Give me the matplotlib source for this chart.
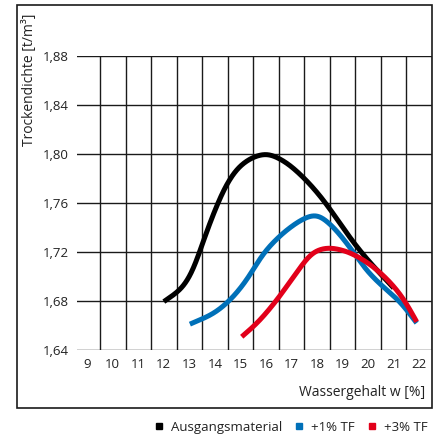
import numpy as np
import matplotlib
matplotlib.use("Agg")
import matplotlib.pyplot as plt
from matplotlib.patches import Rectangle
from matplotlib.lines import Line2D

plt.rcParams['font.family'] = ['Open Sans', 'DejaVu Sans']

# Data
x_ticks = [9, 10, 11, 12, 13, 14, 15, 16, 17, 18, 19, 20, 21, 22]
y_ticks = [1.64, 1.68, 1.72, 1.76, 1.80, 1.84, 1.88]
y_tick_labels = ["1,64", "1,68", "1,72", "1,76", "1,80", "1,84", "1,88"]

aus_x = [12.0, 12.76, 13.15, 13.55, 13.94, 14.46, 14.98, 15.63, 16.0, 16.68, 17.33, 18.11, 18.64, 19.42, 19.94, 21.0]
aus_y = [1.6795, 1.6915, 1.705, 1.7294, 1.7511, 1.7756, 1.7904, 1.7985, 1.8002, 1.7945, 1.7836, 1.766, 1.7511, 1.728, 1.7146, 1.6906]

tf1_x = [13.02, 13.94, 14.59, 15.24, 15.89, 16.42, 16.94, 17.59, 17.95, 18.5, 19.42, 19.94, 20.59, 21.25, 21.9]
tf1_y = [1.6611, 1.6698, 1.6807, 1.697, 1.7186, 1.7307, 1.740, 1.7484, 1.7506, 1.743, 1.720, 1.705, 1.6915, 1.6793, 1.662]

tf3_x = [15.05, 15.64, 16.42, 17.33, 17.85, 18.44, 19.03, 19.94, 20.72, 21.38, 21.9]
tf3_y = [1.6508, 1.6617, 1.6807, 1.7070, 1.720, 1.7235, 1.7213, 1.7118, 1.6983, 1.682, 1.663]

series = [
    ("Ausgangsmaterial", aus_x, aus_y, "#000000"),
    ("+1% TF", tf1_x, tf1_y, "#0070b8"),
    ("+3% TF", tf3_x, tf3_y, "#e2001a"),
]


def pchip(xs, ys, n=600):
    x = np.asarray(xs, float)
    y = np.asarray(ys, float)
    h = np.diff(x)
    d = np.diff(y) / h
    m = np.zeros_like(y)
    for k in range(1, len(x) - 1):
        if d[k - 1] * d[k] > 0:
            w1 = 2 * h[k] + h[k - 1]
            w2 = h[k] + 2 * h[k - 1]
            m[k] = (w1 + w2) / (w1 / d[k - 1] + w2 / d[k])
    m[0] = d[0]
    m[-1] = d[-1]
    xx = np.linspace(x[0], x[-1], n)
    idx = np.clip(np.searchsorted(x, xx) - 1, 0, len(x) - 2)
    t = (xx - x[idx]) / h[idx]
    h00 = 2 * t ** 3 - 3 * t ** 2 + 1
    h10 = t ** 3 - 2 * t ** 2 + t
    h01 = -2 * t ** 3 + 3 * t ** 2
    h11 = t ** 3 - t ** 2
    yy = h00 * y[idx] + h10 * h[idx] * m[idx] + h01 * y[idx + 1] + h11 * h[idx] * m[idx + 1]
    return xx, yy


def smooth_curve(xs, ys, sigma=0.22):
    xx, yy = pchip(xs, ys)
    dx = xx[1] - xx[0]
    s = sigma / dx
    r = int(4 * s)
    k = np.exp(-0.5 * (np.arange(-r, r + 1) / s) ** 2)
    k /= k.sum()
    left = 2 * yy[0] - yy[1:r + 1][::-1]
    right = 2 * yy[-1] - yy[-r - 1:-1][::-1]
    padded = np.concatenate([left, yy, right])
    ys2 = np.convolve(padded, k, mode="valid")
    return xx, ys2


W, H = 439, 436
fig = plt.figure(figsize=(W / 100, H / 100), dpi=100)
ax = fig.add_axes([77 / W, (H - 350) / H, (432 - 77) / W, (350 - 56) / H])

ax.set_xlim(8.6, 22.5)
ax.set_ylim(1.64, 1.88)

# grid
for yv in y_ticks:
    ax.axhline(yv, color="#1a1a1a", lw=1.0, zorder=1)
for xv in np.arange(9.5, 23.0, 1.0):
    ax.axvline(xv, color="#1a1a1a", lw=1.0, zorder=1)

for name, xs, ys, c in series:
    sx, sy = smooth_curve(xs, ys)
    ax.plot(sx, sy, color=c, lw=3.6, solid_capstyle="butt", zorder=3)

for s in ax.spines.values():
    s.set_visible(False)
ax.set_xticks(x_ticks)
ax.set_xticklabels([str(v) for v in x_ticks])
ax.set_yticks(y_ticks)
ax.set_yticklabels(y_tick_labels)
ax.tick_params(length=0, labelsize=9.5, colors="#222222", pad=6)
ax.tick_params(axis="y", pad=6)

# outer frame
fig.patches.append(Rectangle((17 / W, (H - 408) / H), (432 - 17) / W, (408 - 5) / H,
                             transform=fig.transFigure, fill=False, lw=1.2,
                             edgecolor="#1a1a1a"))

fig.text(30 / W, 1 - 14 / H, "Trockendichte [t/m³]", rotation=90, ha="center", va="top",
         fontsize=10, color="#222222")
fig.text(425 / W, 1 - 392 / H, "Wassergehalt w [%]", ha="right", va="center",
         fontsize=10, color="#222222")

handles = [Line2D([], [], marker="s", ls="none", color=c, markersize=5) for _, _, _, c in series]
fig.legend(handles, [s[0] for s in series], loc="center right", ncol=3, frameon=False,
           bbox_to_anchor=(434 / W, 1 - 427 / H), fontsize=9.5, handletextpad=0.5,
           columnspacing=0.9, handlelength=0.8, borderpad=0, labelcolor="#222222")

fig.savefig("out.png", dpi=100)
